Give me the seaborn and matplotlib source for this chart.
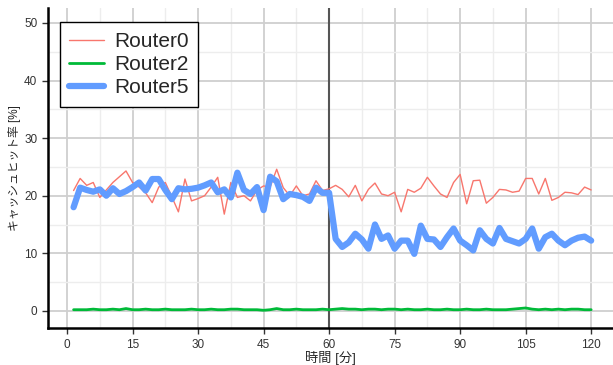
import numpy as np
import pandas as pd
import matplotlib
matplotlib.use("Agg")
import matplotlib.pyplot as plt
from matplotlib.ticker import MultipleLocator
import seaborn as sns

# time axis [min], one sample every 1.5 minutes
minutes = [1.5 * k for k in range(1, 81)]

router0 = [20.9, 23.0, 21.8, 22.3, 19.7, 21.0, 22.3, 23.3, 24.3, 22.3,
           21.5, 20.5, 18.8, 21.5, 22.3, 19.8, 17.2, 22.9, 19.1, 19.5,
           20.0, 21.5, 23.2, 16.8, 22.3, 19.7, 20.0, 19.1, 21.0, 21.7,
           21.5, 24.6, 21.4, 20.0, 21.7, 20.0, 20.3, 22.6, 20.9, 21.2,
           21.8, 21.1, 19.8, 21.8, 19.1, 21.1, 22.2, 20.3, 20.0, 20.6,
           17.2, 21.1, 20.6, 21.3, 23.2, 21.7, 20.3, 19.7, 22.3, 23.7,
           18.6, 22.6, 22.7, 18.7, 19.7, 21.1, 21.0, 20.6, 20.8, 23.0,
           23.0, 20.3, 23.0, 19.2, 19.7, 20.6, 20.5, 20.2, 21.5, 21.0]

router2 = [0.2, 0.2, 0.2, 0.3, 0.2, 0.2, 0.3, 0.2, 0.4, 0.2,
           0.2, 0.3, 0.2, 0.2, 0.3, 0.2, 0.2, 0.2, 0.3, 0.2,
           0.2, 0.3, 0.2, 0.2, 0.3, 0.3, 0.2, 0.2, 0.2, 0.1,
           0.2, 0.4, 0.2, 0.2, 0.3, 0.2, 0.2, 0.2, 0.3, 0.2,
           0.3, 0.4, 0.3, 0.3, 0.2, 0.3, 0.3, 0.2, 0.3, 0.3,
           0.2, 0.3, 0.2, 0.2, 0.3, 0.2, 0.2, 0.3, 0.2, 0.2,
           0.3, 0.2, 0.2, 0.3, 0.2, 0.2, 0.2, 0.3, 0.4, 0.5,
           0.3, 0.2, 0.3, 0.2, 0.3, 0.2, 0.3, 0.3, 0.2, 0.2]

router5 = [18.0, 21.4, 21.0, 20.7, 21.1, 20.0, 21.3, 20.3, 20.8, 21.5,
           22.3, 20.9, 22.9, 22.9, 21.0, 19.4, 21.3, 21.1, 21.2, 21.4,
           21.8, 22.3, 20.6, 21.1, 19.7, 24.0, 21.0, 20.3, 21.5, 17.5,
           23.3, 22.5, 19.4, 20.3, 20.1, 19.8, 19.1, 21.4, 20.5, 20.5,
           12.5, 11.1, 11.9, 13.4, 12.4, 10.8, 15.0, 12.5, 13.1, 10.8,
           12.2, 12.2, 9.9, 14.8, 12.5, 12.4, 11.1, 12.8, 14.3, 12.2,
           11.4, 10.5, 14.0, 12.5, 11.7, 14.4, 12.5, 12.1, 11.7, 12.5,
           14.3, 10.8, 12.8, 13.4, 12.2, 11.4, 12.2, 12.7, 12.9, 12.2]

labels = ["Router0", "Router2", "Router5"]
colors = ["#F8766D", "#00BA38", "#619CFF"]
widths = [1.0, 2.0, 4.5]

sns.set_style("whitegrid")
plt.rcParams["font.family"] = ["Liberation Sans", "Noto Sans CJK JP", "DejaVu Sans"]

fig = plt.figure(figsize=(6.13, 3.65), dpi=100)
ax = fig.add_axes([0.078, 0.101, 0.922, 0.877])

for name, vals, c, lw in zip(labels, [router0, router2, router5], colors, widths):
    sns.lineplot(x=minutes, y=vals, color=c, linewidth=lw, label=name, ax=ax)

ax.axvline(60, color="#555555", linewidth=1.5, zorder=1)

ax.set_xlim(-4.4, 125)
ax.set_ylim(-3, 52.6)
ax.xaxis.set_major_locator(MultipleLocator(15))
ax.xaxis.set_minor_locator(MultipleLocator(7.5))
ax.yaxis.set_major_locator(MultipleLocator(10))
ax.yaxis.set_minor_locator(MultipleLocator(5))
ax.grid(which="major", color="#cfcfcf", linewidth=1.3)
ax.grid(which="minor", color="#ededed", linewidth=1.0)
ax.set_axisbelow(True)

for s in ["top", "right"]:
    ax.spines[s].set_visible(False)
for s in ["left", "bottom"]:
    ax.spines[s].set_color("black")
    ax.spines[s].set_linewidth(1.8)

ax.tick_params(axis="both", which="major", length=4, width=1, color="#333333",
               labelsize=8.5, labelcolor="#333333", direction="out",
               bottom=True, left=True)
ax.tick_params(axis="both", which="minor", length=0)

ax.set_xlabel("時間 [分]", fontsize=9.5, labelpad=0)
ax.set_ylabel("キャッシュヒット率 [%]", fontsize=8.5, labelpad=2)

leg = ax.legend(loc="upper left", bbox_to_anchor=(0.021, 0.955), borderaxespad=0,
                fontsize=15, frameon=True, fancybox=False, framealpha=1,
                edgecolor="black", handlelength=1.7, borderpad=0.45,
                labelspacing=0.2, handletextpad=0.45)
leg.get_frame().set_linewidth(1.0)

fig.savefig("out.png", dpi=100)
